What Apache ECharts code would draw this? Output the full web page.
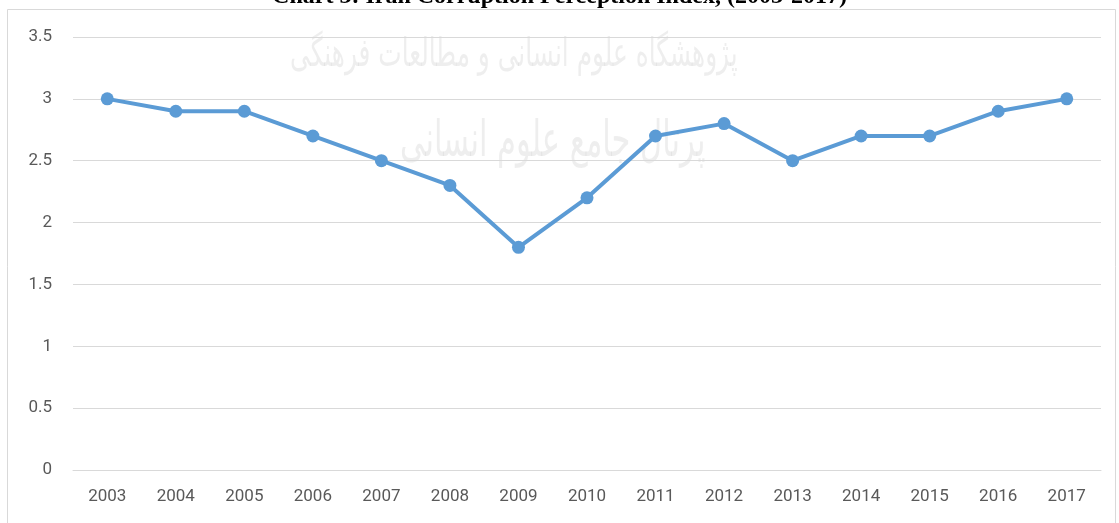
<!DOCTYPE html>
<html><head><meta charset="utf-8">
<script src="https://cdn.jsdelivr.net/npm/echarts@6/dist/echarts.min.js"></script>
<style>html,body{margin:0;padding:0;background:#fff}#c{width:1119px;height:523px}</style>
</head><body><div id="c"></div>
<script>
const titleText = "Chart 3: Iran Corruption Perception Index, (2003-2017)";
const years = ["2003","2004","2005","2006","2007","2008","2009","2010","2011","2012","2013","2014","2015","2016","2017"];
const cpiValues = [3.0, 2.9, 2.9, 2.7, 2.5, 2.3, 1.8, 2.2, 2.7, 2.8, 2.5, 2.7, 2.7, 2.9, 3.0];
const watermarkLines = ["پژوهشگاه علوم انسانی و مطالعات فرهنگی", "پرتال جامع علوم انسانی"];

const chart = echarts.init(document.getElementById('c'));
chart.setOption({
  animation: false,
  backgroundColor: '#fff',
  grid: { left: 73, right: 18, top: 37, bottom: 53, containLabel: false },
  xAxis: {
    type: 'category', data: years, boundaryGap: true,
    axisLine: { show: true, lineStyle: { color: '#d9d9d9', width: 1 } },
    axisTick: { show: false },
    axisLabel: { color: '#595959', fontSize: 17, fontFamily: 'Liberation Sans Narrow, Roboto, sans-serif', margin: 18 }
  },
  yAxis: {
    type: 'value', min: 0, max: 3.5, interval: 0.5,
    axisLine: { show: false }, axisTick: { show: false },
    splitLine: { lineStyle: { color: '#d9d9d9', width: 1 } },
    axisLabel: { color: '#595959', fontSize: 17, fontFamily: 'Liberation Sans Narrow, Roboto, sans-serif', margin: 21 }
  },
  graphic: [
    { type: 'rect', shape: { x: 7.5, y: 9.5, width: 1108, height: 520 }, style: { fill: 'none', stroke: '#d9d9d9', lineWidth: 1 }, z: -1 },
    { type: 'text', left: 'center', top: -15, style: { text: titleText, font: 'bold 24px "Liberation Serif", serif', fill: '#000' }, z: 10 },
    { type: 'text', x: 290, y: 36, scaleX: 0.62, style: { text: watermarkLines[0], font: '40px "DejaVu Sans", sans-serif', fill: 'rgba(150,150,150,0.16)' }, z: 0 },
    { type: 'text', x: 400, y: 118, scaleX: 0.61, style: { text: watermarkLines[1], font: '50px "DejaVu Sans", sans-serif', fill: 'rgba(150,150,150,0.16)' }, z: 0 }
  ],
  series: [{
    type: 'line', data: cpiValues,
    symbol: 'circle', symbolSize: 13,
    lineStyle: { color: '#5B9BD5', width: 4 },
    itemStyle: { color: '#5B9BD5' },
    z: 5
  }]
});
</script></body></html>
